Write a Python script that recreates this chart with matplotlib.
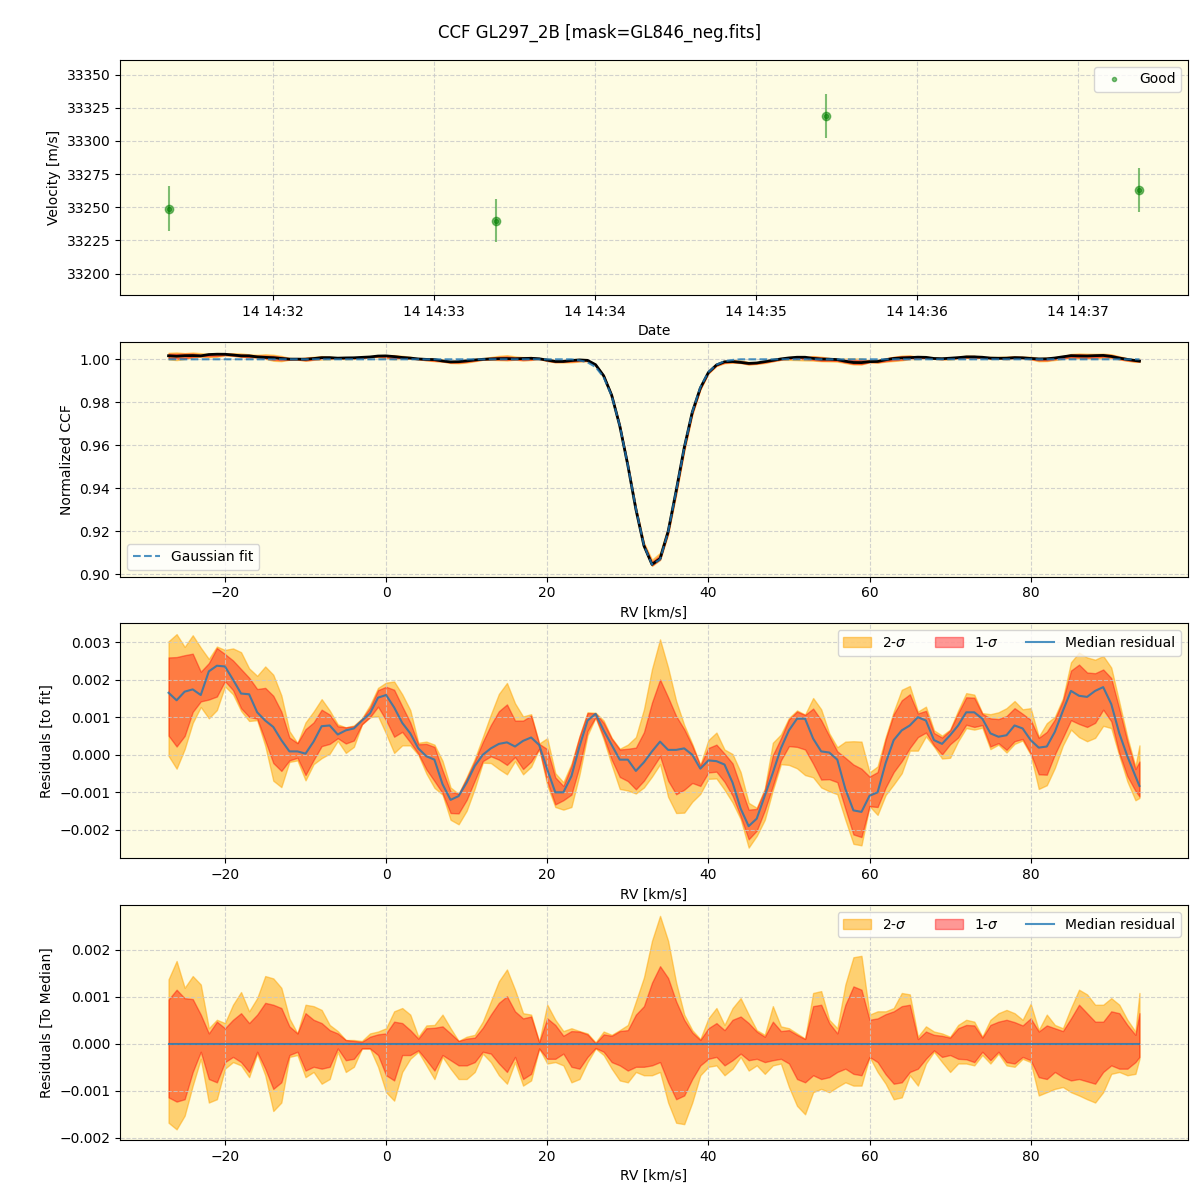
import numpy as np
import pandas as pd
import matplotlib
matplotlib.use('Agg')
import matplotlib.pyplot as plt

# --- velocidades por exposicao (painel de cima) ---
obs_time = pd.to_datetime(['2022-12-14 14:31:21', '2022-12-14 14:33:23',
                           '2022-12-14 14:35:26', '2022-12-14 14:37:23'])
obs_rv = [33249, 33240, 33319, 33263]
obs_err = [17, 16.5, 16.5, 16.5]

# --- grade de RV [km/s] ---
rv = np.r_[np.arange(-27, 94), 93.5]

# ajuste gaussiano
gauss_fit = np.array([1.0] * 51 + [
    0.9995, 0.9986, 0.9964, 0.9917, 0.9830, 0.9692, 0.9509, 0.9307, 0.9135, 0.9045,
    0.9069, 0.9197, 0.9387, 0.9587, 0.9754, 0.9870, 0.9940, 0.9975, 0.9991, 0.9997,
] + [1.0] * 51)

# residuo mediano em relacao ao ajuste
median_res = np.array([
    0.00165, 0.00145, 0.00168, 0.00174, 0.00159, 0.00222, 0.00237, 0.00235, 0.00200, 0.00163,
    0.00161, 0.00113, 0.00091, 0.00074, 0.00039, 0.00009, 0.00009, 0.00003, 0.00035, 0.00076,
    0.00078, 0.00054, 0.00065, 0.00070, 0.00091, 0.00110, 0.00152, 0.00159, 0.00126, 0.00085,
    0.00057, 0.00017, -0.00004, -0.00013, -0.00078, -0.00120, -0.00110, -0.00074, -0.00030, 0.00000,
    0.00017, 0.00029, 0.00033, 0.00022, 0.00037, 0.00046, 0.00026, -0.00039, -0.00100, -0.00100,
    -0.00057, 0.00022, 0.00091, 0.00109, 0.00065, 0.00026, -0.00013, -0.00013, -0.00043, -0.00020,
    0.00009, 0.00035, 0.00013, 0.00013, 0.00017, 0.00000, -0.00037, -0.00015, -0.00017, -0.00026,
    -0.00074, -0.00143, -0.00190, -0.00170, -0.00109, -0.00048, 0.00017, 0.00065, 0.00096, 0.00096,
    0.00043, 0.00009, 0.00006, -0.00013, -0.00091, -0.00148, -0.00152, -0.00109, -0.00100, -0.00022,
    0.00039, 0.00065, 0.00078, 0.00100, 0.00091, 0.00039, 0.00029, 0.00052, 0.00078, 0.00113,
    0.00113, 0.00096, 0.00057, 0.00048, 0.00052, 0.00078, 0.00070, 0.00039, 0.00019, 0.00022,
    0.00061, 0.00117, 0.00170, 0.00157, 0.00154, 0.00170, 0.00180, 0.00135, 0.00057, -0.00004,
    -0.00057, -0.00083])

# dispersao em relacao a mediana
sig2_up = np.array([
    0.00137, 0.00176, 0.00119, 0.00144, 0.00126, 0.00033, 0.00051, 0.00044, 0.00083, 0.00110,
    0.00069, 0.00097, 0.00144, 0.00139, 0.00119, 0.00054, 0.00022, 0.00083, 0.00080, 0.00072,
    0.00040, 0.00027, 0.00008, 0.00008, 0.00006, 0.00022, 0.00026, 0.00033, 0.00069, 0.00076,
    0.00062, 0.00015, 0.00039, 0.00040, 0.00062, 0.00033, 0.00006, 0.00015, 0.00019, 0.00047,
    0.00090, 0.00133, 0.00158, 0.00115, 0.00065, 0.00062, 0.00004, 0.00083, 0.00051, 0.00027,
    0.00033, 0.00027, 0.00022, 0.00003, 0.00026, 0.00019, 0.00029, 0.00040, 0.00090, 0.00141,
    0.00219, 0.00272, 0.00219, 0.00130, 0.00062, 0.00029, 0.00010, 0.00054, 0.00076, 0.00040,
    0.00076, 0.00097, 0.00062, 0.00029, 0.00019, 0.00080, 0.00037, 0.00033, 0.00022, 0.00011,
    0.00108, 0.00112, 0.00051, 0.00033, 0.00126, 0.00184, 0.00187, 0.00062, 0.00069, 0.00069,
    0.00076, 0.00108, 0.00105, 0.00015, 0.00037, 0.00026, 0.00022, 0.00015, 0.00040, 0.00051,
    0.00047, 0.00015, 0.00051, 0.00065, 0.00072, 0.00065, 0.00051, 0.00085, 0.00029, 0.00062,
    0.00040, 0.00033, 0.00076, 0.00115, 0.00105, 0.00083, 0.00083, 0.00097, 0.00083, 0.00051,
    0.00026, 0.00108])

sig1_up = np.array([
    0.00094, 0.00115, 0.00097, 0.00095, 0.00062, 0.00022, 0.00047, 0.00033, 0.00051, 0.00065,
    0.00044, 0.00062, 0.00087, 0.00083, 0.00076, 0.00037, 0.00022, 0.00065, 0.00051, 0.00044,
    0.00029, 0.00022, 0.00008, 0.00006, 0.00004, 0.00015, 0.00020, 0.00022, 0.00047, 0.00044,
    0.00029, 0.00011, 0.00033, 0.00034, 0.00037, 0.00022, 0.00006, 0.00011, 0.00013, 0.00034,
    0.00062, 0.00087, 0.00101, 0.00069, 0.00054, 0.00058, 0.00003, 0.00054, 0.00040, 0.00017,
    0.00027, 0.00026, 0.00020, 0.00001, 0.00020, 0.00017, 0.00027, 0.00029, 0.00062, 0.00080,
    0.00130, 0.00165, 0.00140, 0.00090, 0.00051, 0.00024, 0.00008, 0.00033, 0.00044, 0.00029,
    0.00051, 0.00058, 0.00044, 0.00026, 0.00015, 0.00047, 0.00027, 0.00029, 0.00019, 0.00010,
    0.00080, 0.00083, 0.00044, 0.00022, 0.00083, 0.00122, 0.00115, 0.00051, 0.00054, 0.00063,
    0.00069, 0.00080, 0.00083, 0.00010, 0.00026, 0.00019, 0.00017, 0.00013, 0.00033, 0.00040,
    0.00039, 0.00013, 0.00040, 0.00047, 0.00051, 0.00046, 0.00039, 0.00054, 0.00026, 0.00039,
    0.00033, 0.00027, 0.00054, 0.00083, 0.00065, 0.00047, 0.00047, 0.00069, 0.00065, 0.00040,
    0.00019, 0.00065])

sig1_dn = np.array([
    -0.00114, -0.00123, -0.00118, -0.00060, -0.00017, -0.00075, -0.00082, -0.00039, -0.00028, -0.00039,
    -0.00060, -0.00017, -0.00053, -0.00096, -0.00082, -0.00024, -0.00017, -0.00057, -0.00049, -0.00053,
    -0.00049, -0.00010, -0.00035, -0.00032, -0.00010, -0.00010, -0.00024, -0.00067, -0.00078, -0.00024,
    -0.00024, -0.00014, -0.00035, -0.00057, -0.00024, -0.00035, -0.00046, -0.00046, -0.00039, -0.00017,
    -0.00021, -0.00042, -0.00060, -0.00028, -0.00075, -0.00064, -0.00010, -0.00032, -0.00032, -0.00021,
    -0.00049, -0.00053, -0.00028, -0.00009, -0.00017, -0.00039, -0.00046, -0.00057, -0.00049, -0.00049,
    -0.00046, -0.00039, -0.00082, -0.00118, -0.00110, -0.00075, -0.00046, -0.00032, -0.00028, -0.00046,
    -0.00035, -0.00021, -0.00035, -0.00032, -0.00039, -0.00035, -0.00032, -0.00042, -0.00075, -0.00082,
    -0.00067, -0.00075, -0.00071, -0.00060, -0.00053, -0.00064, -0.00067, -0.00028, -0.00039, -0.00065,
    -0.00085, -0.00082, -0.00060, -0.00053, -0.00032, -0.00014, -0.00028, -0.00024, -0.00032, -0.00033,
    -0.00039, -0.00017, -0.00035, -0.00017, -0.00039, -0.00042, -0.00028, -0.00035, -0.00071, -0.00075,
    -0.00060, -0.00071, -0.00078, -0.00075, -0.00080, -0.00085, -0.00060, -0.00046, -0.00053, -0.00053,
    -0.00039, -0.00028])

sig2_dn = np.array([
    -0.00168, -0.00182, -0.00153, -0.00089, -0.00032, -0.00125, -0.00118, -0.00053, -0.00039, -0.00046,
    -0.00071, -0.00021, -0.00067, -0.00143, -0.00125, -0.00028, -0.00024, -0.00071, -0.00060, -0.00085,
    -0.00075, -0.00017, -0.00060, -0.00049, -0.00010, -0.00010, -0.00049, -0.00103, -0.00121, -0.00060,
    -0.00032, -0.00017, -0.00046, -0.00075, -0.00028, -0.00053, -0.00075, -0.00075, -0.00060, -0.00021,
    -0.00039, -0.00067, -0.00085, -0.00039, -0.00089, -0.00078, -0.00010, -0.00042, -0.00039, -0.00046,
    -0.00082, -0.00075, -0.00039, -0.00010, -0.00024, -0.00053, -0.00078, -0.00082, -0.00060, -0.00067,
    -0.00067, -0.00060, -0.00125, -0.00168, -0.00171, -0.00125, -0.00067, -0.00049, -0.00046, -0.00067,
    -0.00053, -0.00028, -0.00057, -0.00046, -0.00064, -0.00046, -0.00042, -0.00092, -0.00132, -0.00150,
    -0.00103, -0.00096, -0.00103, -0.00092, -0.00082, -0.00089, -0.00089, -0.00028, -0.00060, -0.00085,
    -0.00118, -0.00114, -0.00067, -0.00089, -0.00042, -0.00017, -0.00039, -0.00060, -0.00042, -0.00042,
    -0.00046, -0.00024, -0.00042, -0.00021, -0.00046, -0.00049, -0.00032, -0.00039, -0.00110, -0.00103,
    -0.00096, -0.00092, -0.00103, -0.00110, -0.00118, -0.00125, -0.00103, -0.00064, -0.00060, -0.00067,
    -0.00064, -0.00032])

bg = '#fefce3'
ccf_med = gauss_fit + median_res

fig, axes = plt.subplots(4, 1, figsize=(12, 12))
fig.subplots_adjust(left=0.1, right=0.99, top=0.95, bottom=0.05, hspace=0.2)
fig.suptitle('CCF GL297_2B [mask=GL846_neg.fits]', fontsize=12, y=0.98)

# painel 1: velocidades
ax = axes[0]
ax.errorbar(obs_time.to_pydatetime(), obs_rv, yerr=obs_err, fmt='o', color='green', alpha=0.5)
ax.plot(obs_time.to_pydatetime(), obs_rv, '.', color='green', alpha=0.5, label='Good')
ax.set_ylim(33184, 33361)
ax.set_xlabel('Date')
ax.set_ylabel('Velocity [m/s]')
ax.legend(loc='upper right')

# painel 2: CCF normalizada
ax = axes[1]
ax.fill_between(rv, ccf_med + sig2_dn, ccf_med + sig2_up, color='orange', alpha=0.5)
ax.fill_between(rv, ccf_med + sig1_dn, ccf_med + sig1_up, color='red', alpha=0.4)
ax.plot(rv, ccf_med, color='black', lw=2)
ax.plot(rv, gauss_fit, '--', color='tab:blue', alpha=0.8, lw=1.5, label='Gaussian fit')
ax.set_xlabel('RV [km/s]')
ax.set_ylabel('Normalized CCF')
ax.legend(loc='lower left')

# painel 3: residuos em relacao ao ajuste
ax = axes[2]
ax.fill_between(rv, median_res + sig2_dn, median_res + sig2_up, color='orange', alpha=0.5, label='2-$\\sigma$')
ax.fill_between(rv, median_res + sig1_dn, median_res + sig1_up, color='red', alpha=0.4, label='1-$\\sigma$')
ax.plot(rv, median_res, color='tab:blue', alpha=0.8, lw=1.5, label='Median residual')
ax.set_xlabel('RV [km/s]')
ax.set_ylabel('Residuals [to fit]')
ax.legend(loc='upper right', ncol=3)

# painel 4: residuos em relacao a mediana
ax = axes[3]
zero = median_res - median_res
ax.fill_between(rv, sig2_dn, sig2_up, color='orange', alpha=0.5, label='2-$\\sigma$')
ax.fill_between(rv, sig1_dn, sig1_up, color='red', alpha=0.4, label='1-$\\sigma$')
ax.plot(rv, zero, color='tab:blue', alpha=0.8, lw=1.5, label='Median residual')
ax.set_xlabel('RV [km/s]')
ax.set_ylabel('Residuals [To Median]')
ax.legend(loc='upper right', ncol=3)

for ax in axes:
    ax.set_facecolor(bg)
    ax.grid(True, linestyle='--', color='#c8c8c8', alpha=0.8)

plt.savefig('out.png', dpi=100)
